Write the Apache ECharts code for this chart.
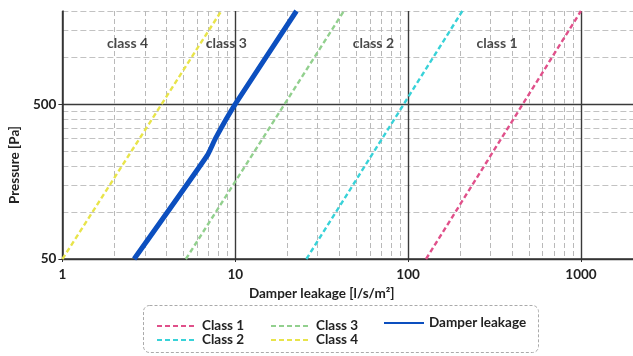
<!DOCTYPE html>
<html>
<head>
<meta charset="utf-8">
<script src="https://cdn.jsdelivr.net/npm/echarts@6/dist/echarts.min.js"></script>
<style>
html,body{margin:0;padding:0;background:#fff;}
#c{width:633px;height:356px;}
</style>
</head>
<body>
<div id="c"></div>
<script>
// ---- data ----
const pressureEnds = [50, 2000];            // Pa, ends of each class line
const class1 = [127, 1000];                 // l/s/m² at 50 Pa and 2000 Pa
const class2 = [25.8, 206];
const class3 = [5.18, 42.5];
const class4 = [1, 8.3];
const damperLeak = [2.6, 6.9, 7.7, 10, 22.6];
const damperPressure = [50, 234, 302, 500, 2000];
const xMajorTicks = [1, 10, 100, 1000];
const xMinorTicks = [2,3,4,5,6,7,8,9,20,30,40,50,60,70,80,90,200,300,400,500,600,700,800,900,2000];
const yMajorTicks = [50, 500];
const yMinorTicks = [100,150,200,250,300,350,400,450,1000,1500,2000];
const classLabels = ['class 4', 'class 3', 'class 2', 'class 1'];
const classLabelLeak = [2.38, 8.88, 63, 327];
const classLabelPressure = [1240, 1240, 1240, 1240];

const FONT = "Lato, 'Liberation Sans Narrow', sans-serif";

function pairs(xs, ys){ return xs.map((x,i)=>[x, ys[i]]); }

const chart = echarts.init(document.getElementById('c'), null, {renderer:'canvas'});

const dashed = (color)=>({color:color, width:2.4, type:[5,3]});
const legendText = {fontFamily:FONT, fontSize:13.5, fontWeight:'bold', color:'#222', lineHeight:14};

const option = {
  animation:false,
  backgroundColor:'#fff',
  grid:{left:55, right:0, top:11, bottom:97, containLabel:false},
  xAxis:[
    {type:'log', logBase:10, min:1, max:2000, position:'bottom',
     name:'Damper leakage [l/s/m²]', nameLocation:'middle', nameGap:24,
     nameTextStyle:{fontFamily:FONT, fontSize:13.5, fontWeight:'bold', color:'#222', padding:[0,52,0,0]},
     axisLine:{show:true, onZero:false, lineStyle:{color:'#333', width:1.5}},
     axisTick:{show:true, length:3, customValues:xMajorTicks, lineStyle:{color:'#333'}},
     axisLabel:{customValues:xMajorTicks, margin:9, fontFamily:FONT, fontSize:13.5, fontWeight:'bold', color:'#222',
       formatter:(v)=>String(Math.round(v))},
     splitLine:{show:true, lineStyle:{color:'#3a3a3a', width:1.4}},
     minorTick:{show:false}, minorSplitLine:{show:false}},
    {type:'log', logBase:10, min:1, max:2000, position:'bottom',
     axisLine:{show:false}, axisLabel:{show:false},
     axisTick:{show:false, customValues:xMinorTicks},
     splitLine:{show:true, lineStyle:{color:'#b9b9b9', width:1, type:[5,3]}}}
  ],
  yAxis:[
    {type:'log', logBase:10, min:50, max:2000, position:'left',
     name:'Pressure [Pa]', nameLocation:'middle', nameGap:36,
     nameTextStyle:{fontFamily:FONT, fontSize:13.5, fontWeight:'bold', color:'#222', padding:[0,60,0,0]},
     axisLine:{show:true, onZero:false, lineStyle:{color:'#333', width:1.5}},
     axisTick:{show:true, length:4, customValues:yMajorTicks, lineStyle:{color:'#333'}},
     axisLabel:{customValues:yMajorTicks, margin:6, fontFamily:FONT, fontSize:13.5, fontWeight:'bold', color:'#222',
       formatter:(v)=>String(Math.round(v))},
     splitLine:{show:true, lineStyle:{color:'#3a3a3a', width:1.4}}},
    {type:'log', logBase:10, min:50, max:2000, position:'left',
     axisLine:{show:false}, axisLabel:{show:false},
     axisTick:{show:false, customValues:yMinorTicks},
     splitLine:{show:true, lineStyle:{color:'#c2c2c2', width:1, type:[6,3]}}}
  ],
  legend:[
    {data:['Class 1','Class 2'], orient:'vertical', left:156, top:319, padding:0, itemWidth:40, itemHeight:8, itemGap:0,
     itemStyle:{opacity:0}, textStyle:legendText},
    {data:['Class 3','Class 4'], orient:'vertical', left:270, top:319, padding:0, itemWidth:40, itemHeight:8, itemGap:0,
     itemStyle:{opacity:0}, textStyle:legendText},
    {data:['Damper leakage'], orient:'vertical', left:383, top:316, padding:0, itemWidth:40, itemHeight:8,
     itemStyle:{opacity:0}, textStyle:legendText}
  ],
  graphic:[
    {type:'rect', left:143, top:305, shape:{width:395, height:47, r:6}, z:-1,
     style:{fill:'#fff', stroke:'#aaa', lineWidth:1, lineDash:[3,2]}}
  ],
  series:[
    {name:'Class 1', type:'line', symbol:'none', data:pairs(class1, pressureEnds),
     lineStyle:dashed('#e0508a'), itemStyle:{color:'#e0508a'}, z:3},
    {name:'Class 2', type:'line', symbol:'none', data:pairs(class2, pressureEnds),
     lineStyle:dashed('#38d2d8'), itemStyle:{color:'#38d2d8'}, z:3},
    {name:'Class 3', type:'line', symbol:'none', data:pairs(class3, pressureEnds),
     lineStyle:dashed('#92d08e'), itemStyle:{color:'#92d08e'}, z:3},
    {name:'Class 4', type:'line', symbol:'none', data:pairs(class4, pressureEnds),
     lineStyle:dashed('#e8e44a'), itemStyle:{color:'#e8e44a'}, z:3},
    {name:'Damper leakage', type:'line', symbol:'none', smooth:0.15, data:pairs(damperLeak, damperPressure),
     lineStyle:{color:'#0c4fbf', width:5}, itemStyle:{color:'#0c4fbf'}, z:4},
    {name:'labels', type:'scatter', symbolSize:0, silent:true, z:5,
     data:classLabels.map((n,i)=>({name:n, value:[classLabelLeak[i], classLabelPressure[i]]})),
     label:{show:true, position:'inside', formatter:'{b}', fontFamily:FONT, fontSize:14, fontWeight:'bold', color:'#1a1a1a'}}
  ]
};
chart.setOption(option);
</script>
</body>
</html>
